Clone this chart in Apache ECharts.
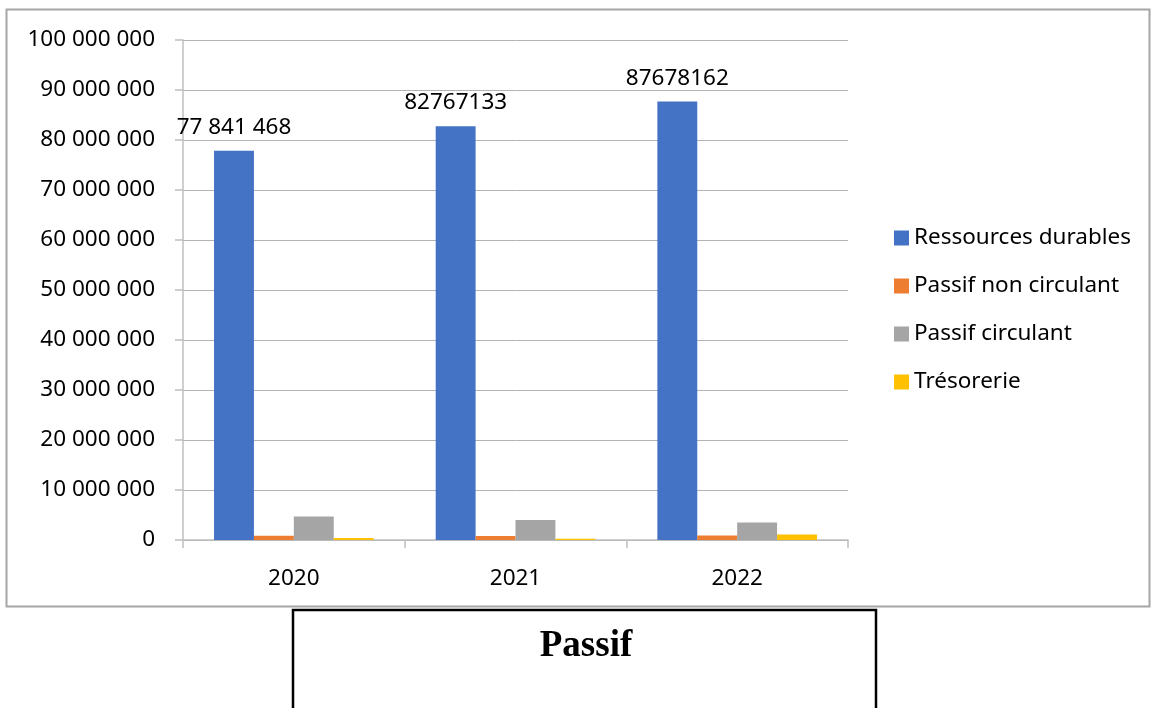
<!DOCTYPE html>
<html>
<head>
<meta charset="utf-8">
<script src="https://cdn.jsdelivr.net/npm/echarts@6/dist/echarts.min.js"></script>
<style>
  html, body { margin: 0; padding: 0; background: #fff; }
  #chart { width: 1155px; height: 708px; }
</style>
</head>
<body>
<div id="chart"></div>
<script>
// Passif du bilan, 2020-2022
const years = ['2020', '2021', '2022'];
const seriesNames = ['Ressources durables', 'Passif non circulant', 'Passif circulant', 'Trésorerie'];
const ressourcesDurables = [77841468, 82767133, 87678162];
const passifNonCirculant = [870000, 800000, 920000];
const passifCirculant = [4700000, 4000000, 3500000];
const tresorerie = [400000, 270000, 1100000];
// the first value label is printed with digit grouping, the others are not
const labelGrouped = [true, false, false];

const colors = ['#4472C4', '#ED7D31', '#A5A5A5', '#FFC000'];
const font = '"Noto Sans", "Open Sans", sans-serif';

function grouped(v) {
  return String(Math.round(v)).replace(/\B(?=(\d{3})+(?!\d))/g, ' ');
}

const chart = echarts.init(document.getElementById('chart'), null, { renderer: 'canvas' });

const values = [ressourcesDurables, passifNonCirculant, passifCirculant, tresorerie];

const series = values.map((data, i) => ({
  name: seriesNames[i],
  type: 'bar',
  data: data,
  barGap: '0%',
  barCategoryGap: '28%',
  itemStyle: { color: colors[i] },
  label: i === 0 ? {
    show: true,
    position: 'top',
    distance: 12,
    color: '#000',
    fontFamily: font,
    fontSize: 22.5,
    formatter: p => labelGrouped[p.dataIndex] ? grouped(p.value) : String(p.value)
  } : { show: false }
}));

chart.setOption({
  animation: false,
  backgroundColor: '#fff',
  textStyle: { fontFamily: font },
  grid: { left: 183, top: 40, width: 665, height: 500, containLabel: false },
  xAxis: {
    type: 'category',
    data: years,
    axisLine: { show: true, lineStyle: { color: '#bfbfbf', width: 1.5 } },
    axisTick: { show: true, length: 8, inside: false, alignWithLabel: false, lineStyle: { color: '#bfbfbf', width: 1.5 } },
    axisLabel: { color: '#000', fontSize: 22.5, fontFamily: font, margin: 27 }
  },
  yAxis: {
    type: 'value',
    min: 0,
    max: 100000000,
    interval: 10000000,
    axisLine: { show: true, lineStyle: { color: '#bfbfbf', width: 1.5 } },
    axisTick: { show: true, length: 8, lineStyle: { color: '#bfbfbf', width: 1.5 } },
    splitLine: { show: true, lineStyle: { color: '#b3b3b3', width: 1 } },
    axisLabel: { color: '#000', fontSize: 22.5, fontFamily: font, margin: 28, formatter: v => grouped(v) }
  },
  legend: {
    orient: 'vertical',
    left: 889,
    top: 221,
    itemWidth: 15,
    itemHeight: 15,
    itemGap: 24,
    icon: 'rect',
    textStyle: { color: '#000', fontSize: 22.5, fontFamily: font, lineHeight: 24 },
    data: seriesNames
  },
  series: series,
  graphic: [
    {
      type: 'rect',
      shape: { x: 6.5, y: 9.5, width: 1143, height: 597 },
      style: { fill: 'none', stroke: '#a6a6a6', lineWidth: 2 },
      silent: true,
      z: -1
    },
    {
      type: 'rect',
      shape: { x: 293, y: 610, width: 583, height: 110 },
      style: { fill: '#fff', stroke: '#000', lineWidth: 2.5 },
      silent: true
    },
    {
      type: 'text',
      x: 586,
      y: 646,
      style: {
        text: 'Passif',
        fill: '#000',
        font: 'bold 37px "Liberation Serif", "DejaVu Serif", serif',
        textAlign: 'center',
        textVerticalAlign: 'middle'
      },
      silent: true
    }
  ]
});
</script>
</body>
</html>
